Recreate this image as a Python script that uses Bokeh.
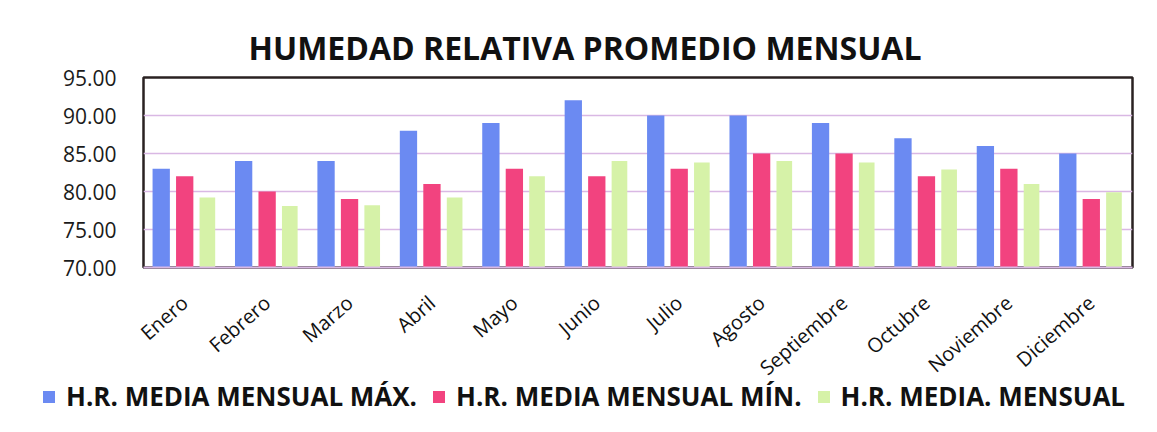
from bokeh.plotting import figure
from bokeh.layouts import column
from bokeh.models import (ColumnDataSource, Range1d, FactorRange, Legend, LegendItem,
                          FixedTicker, NumeralTickFormatter)
from bokeh.transform import dodge
from bokeh.embed import file_html
from bokeh.resources import INLINE

months = ["Enero", "Febrero", "Marzo", "Abril", "Mayo", "Junio", "Julio",
          "Agosto", "Septiembre", "Octubre", "Noviembre", "Diciembre"]
hr_max = [83, 84, 84, 88, 89, 92, 90, 90, 89, 87, 86, 85]
hr_min = [82, 80, 79, 81, 83, 82, 83, 85, 85, 82, 83, 79]
hr_media = [79.2, 78.1, 78.2, 79.2, 82.0, 84.0, 83.8, 84.0, 83.8, 82.9, 81.0, 79.9]
y_ticks = [70, 75, 80, 85, 90, 95]

series_labels = ["H.R. MEDIA MENSUAL MÁX.", "H.R. MEDIA MENSUAL MÍN.", "H.R. MEDIA. MENSUAL"]

blue = "#6b8af2"
pink = "#f2437f"
green = "#d6f2a8"

W = 1150
H_MAIN = 394
H_LEG = 36

source = ColumnDataSource(dict(month=months, hmax=hr_max, hmin=hr_min, hmed=hr_media))

p = figure(width=W, height=H_MAIN, output_backend="svg", toolbar_location=None,
           x_range=FactorRange(*months, range_padding=0), y_range=Range1d(70, 95),
           min_border_left=143, min_border_right=18, min_border_top=77,
           min_border_bottom=H_MAIN - 268, frame_align=False,
           background_fill_color="white", border_fill_color="white")

p.title.text = "HUMEDAD RELATIVA PROMEDIO MENSUAL"
p.title.align = "left"
p.title.offset = 105
p.title.standoff = 17
p.title.text_font = "Open Sans"
p.title.text_font_style = "bold"
p.title.text_font_size = "32px"
p.title.text_color = "#111111"

p.outline_line_color = "#2a2222"
p.outline_line_width = 2.5

r1 = p.vbar(x=dodge("month", -0.285, range=p.x_range), top="hmax", bottom=70, width=0.21,
            source=source, fill_color=blue, line_color=None)
r2 = p.vbar(x=dodge("month", 0.0, range=p.x_range), top="hmin", bottom=70, width=0.21,
            source=source, fill_color=pink, line_color=None)
r3 = p.vbar(x=dodge("month", 0.275, range=p.x_range), top="hmed", bottom=70, width=0.19,
            source=source, fill_color=green, line_color=None)

p.xgrid.grid_line_color = None
p.ygrid.grid_line_color = "#d9b8e4"
p.ygrid.grid_line_width = 1.5
p.ygrid.ticker = FixedTicker(ticks=y_ticks)

p.yaxis.ticker = FixedTicker(ticks=y_ticks)
p.yaxis.formatter = NumeralTickFormatter(format="0.00")
p.yaxis.axis_line_color = None
p.yaxis.major_tick_line_color = None
p.yaxis.minor_tick_line_color = None
p.yaxis.major_tick_out = 0
p.yaxis.major_label_standoff = 27
p.yaxis.major_label_text_font = "Open Sans"
p.yaxis.major_label_text_font_size = "21px"
p.yaxis.major_label_text_color = "#1a1a1a"

p.xaxis.axis_line_color = "#d9b8e4"
p.xaxis.axis_line_width = 2
p.xaxis.major_tick_line_color = None
p.xaxis.major_tick_out = 0
p.xaxis.major_label_orientation = 0.72
p.xaxis.major_label_standoff = 32
p.xaxis.major_label_text_font = "Open Sans"
p.xaxis.major_label_text_font_size = "20px"
p.xaxis.major_label_text_color = "#111111"

# Legend strip below the chart (pulled up into the chart's empty bottom border)
leg = figure(width=W, height=H_LEG, output_backend="svg", toolbar_location=None,
             x_range=Range1d(0, 1), y_range=Range1d(0, 1), min_border=0, frame_align=False,
             outline_line_color=None, background_fill_alpha=0, border_fill_alpha=0)
leg.axis.visible = False
leg.grid.grid_line_color = None
leg.styles = {"margin-top": "-16px"}
hidden = ColumnDataSource(dict(x=[5], top=[5]))
l1 = leg.vbar(x="x", top="top", width=0.1, source=hidden, fill_color=blue, line_color=None)
l2 = leg.vbar(x="x", top="top", width=0.1, source=hidden, fill_color=pink, line_color=None)
l3 = leg.vbar(x="x", top="top", width=0.1, source=hidden, fill_color=green, line_color=None)

legend = Legend(items=[LegendItem(label=series_labels[0], renderers=[l1]),
                       LegendItem(label=series_labels[1], renderers=[l2]),
                       LegendItem(label=series_labels[2], renderers=[l3])],
                orientation="horizontal", location=(41, 0),
                glyph_width=15, glyph_height=15, label_standoff=10, spacing=14,
                padding=0, margin=0, border_line_color=None, background_fill_alpha=0,
                label_text_font="Open Sans", label_text_font_style="bold",
                label_text_font_size="26px", label_text_color="#111111")
leg.add_layout(legend)

layout = column(p, leg, spacing=0)
open("out.html", "w").write(file_html(layout, INLINE))
